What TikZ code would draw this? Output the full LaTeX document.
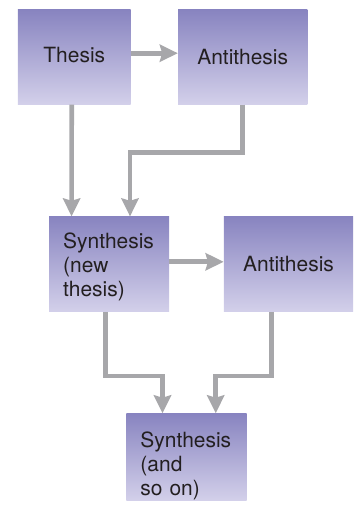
\documentclass[tikz,border=0pt]{standalone}
\usepackage{fontspec}
\setmainfont{TeX Gyre Heros}
\usepackage{tikz}
\usetikzlibrary{arrows.meta, positioning, calc}

\definecolor{boxtop}{RGB}{136,132,192}
\definecolor{boxbottom}{RGB}{211,208,234}
\definecolor{flowgray}{RGB}{167,167,170}
\definecolor{inktext}{RGB}{35,31,32}

\begin{document}
\begin{tikzpicture}[
    x=0.025cm, y=-0.025cm,
    font=\fontsize{14.9}{17.3}\selectfont,
    stage/.style={
        rectangle,
        inner sep=0pt,
        top color=boxtop,
        bottom color=boxbottom,
        draw=none,
        text=inktext,
        align=center
    },
    stageleft/.style={
        stage,
        align=left,
        text width=2.3cm,
        inner xsep=0.35cm
    },
    flow/.style={
        draw=flowgray,
        line width=3.3pt,
        -{Stealth[width=0.43cm, length=0.45cm, inset=0.06cm]}
    }
]

\useasboundingbox (0,0) rectangle (356,507);

% First row
\node[stage, minimum width=2.82cm, minimum height=2.36cm] (thesis) at (74.3,57.2)
{Thesis\rule[-3pt]{0pt}{0pt}};

\node[stage, minimum width=3.23cm, minimum height=2.36cm] (antithesis) at (242.7,57.2)
{Antithesis};

% Second row
\node[stageleft, minimum height=2.375cm] (synthesis) at (109.2,264.2)
{\rule{0pt}{15pt}Synthesis\\(new\\thesis)};

\node[stage, minimum width=3.23cm, minimum height=2.375cm] (antithesis2) at (288.5,264.2)
{Antithesis};

% Last row
\node[stageleft, minimum height=2.05cm] (synthesisnext) at (186.5,457)
{\rule{0pt}{24pt}Synthesis\\(and\\so on)};

% Connectors
\draw[flow] ([yshift=0.1cm]thesis.east) -- ([yshift=0.1cm]antithesis.west);
\draw[flow] ([xshift=-0.065cm]thesis.south) -- ([xshift=-0.94cm]synthesis.north);
\draw[flow] (antithesis.south) -- ++(0,48) -| ([xshift=0.52cm]synthesis.north);

\draw[flow] ([yshift=0.06cm]synthesis.east) -- ([yshift=0.06cm]antithesis2.west);
\draw[flow] ([xshift=-0.09cm]synthesis.south) -- ++(0,64) -| ([xshift=-0.6cm]synthesisnext.north);
\draw[flow] ([xshift=-0.42cm]antithesis2.south) -- ++(0,64) -| ([xshift=0.73cm]synthesisnext.north);

\end{tikzpicture}
\end{document}
